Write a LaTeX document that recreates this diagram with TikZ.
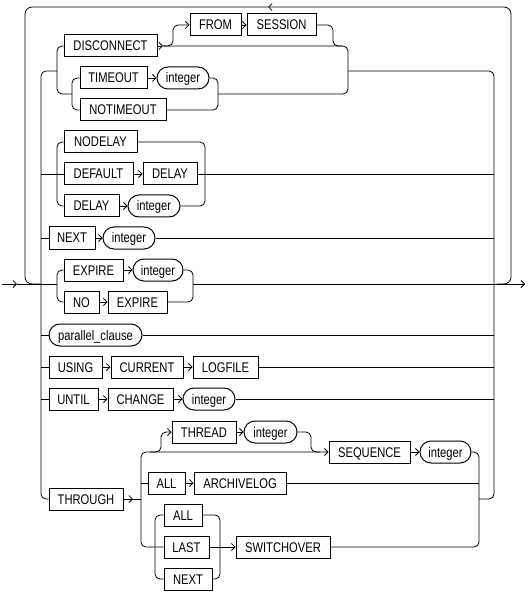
\documentclass[tikz,border=0pt]{standalone}
\usepackage{fontspec}
\setmainfont[FakeStretch=0.8]{Liberation Sans}
\usetikzlibrary{arrows.meta,shapes.misc}
\begin{document}
\begin{tikzpicture}[x=1pt,y=-1pt,
 kw/.style={draw,line width=1pt,minimum height=22pt,inner sep=0pt,text height=10pt,text depth=0pt,font=\fontsize{14}{16}\selectfont},
 var/.style={kw,rounded rectangle},
 ln/.style={line width=0.8pt,rounded corners=5pt},
 ar/.style={ln,-{Straight Barb[length=3.5pt,width=7pt,line width=0.8pt]}}]
\useasboundingbox (0,0) rectangle (529,593);

% nodes
\node[kw,minimum width=93pt] (disc) at (110.5,46) {DISCONNECT};
\node[kw,minimum width=51pt] (from) at (215.5,25) {FROM};
\node[kw,minimum width=69pt] (sess) at (281.5,25) {SESSION};
\node[kw,minimum width=67pt] (timeout) at (113.5,78) {TIMEOUT};
\node[var,minimum width=52pt] (int1) at (183,78) {integer};
\node[kw,minimum width=86pt] (notimeout) at (123,110) {NOTIMEOUT};
\node[kw,minimum width=73pt] (nodelay) at (100.5,142) {NODELAY};
\node[kw,minimum width=69pt] (default) at (98.5,174) {DEFAULT};
\node[kw,minimum width=54pt] (delayA) at (170,174) {DELAY};
\node[kw,minimum width=55pt] (delayB) at (91.5,206) {DELAY};
\node[var,minimum width=52pt] (int2) at (154,206) {integer};
\node[kw,minimum width=46pt] (next) at (72,238) {NEXT};
\node[var,minimum width=52pt] (int3) at (129,238) {integer};
\node[kw,minimum width=59pt] (expire) at (93.5,270) {EXPIRE};
\node[var,minimum width=50pt] (int4) at (158,270) {integer};
\node[kw,minimum width=35pt] (no) at (81.5,302) {NO};
\node[kw,minimum width=59pt] (expireB) at (137.5,302) {EXPIRE};
\node[var,minimum width=93pt] (pc) at (95.5,335) {parallel\_clause};
\node[kw,minimum width=53pt] (using) at (75.5,367) {USING};
\node[kw,minimum width=72pt] (current) at (147,367) {CURRENT};
\node[kw,minimum width=65pt] (logfile) at (225.5,367) {LOGFILE};
\node[kw,minimum width=49pt] (until) at (73.5,399) {UNTIL};
\node[kw,minimum width=65pt] (change) at (140.5,399) {CHANGE};
\node[var,minimum width=52pt] (int5) at (209,399) {integer};
\node[kw,minimum width=64pt] (thread) at (204,432) {THREAD};
\node[var,minimum width=53pt] (int6) at (270.5,432) {integer};
\node[kw,minimum width=81pt] (seq) at (369.5,452) {SEQUENCE};
\node[var,minimum width=51pt] (int7) at (445.5,452) {integer};
\node[kw,minimum width=74pt] (through) at (86,499) {THROUGH};
\node[kw,minimum width=37pt] (allA) at (166.5,483) {ALL};
\node[kw,minimum width=92pt] (archivelog) at (240,483) {ARCHIVELOG};
\node[kw,minimum width=38pt] (allB) at (183,515) {ALL};
\node[kw,minimum width=45pt] (last) at (186.5,547) {LAST};
\node[kw,minimum width=94pt] (switchover) at (283,547) {SWITCHOVER};
\node[kw,minimum width=48pt] (nextB) at (188,579) {NEXT};

% main line
\draw[ar] (2,284) -- (17,284);
\draw[ln] (17,284) -- (57,284);
\draw[ln] (193,284) -- (512,284);
\draw[ar] (512,284) -- (525,284);

% repeat loop
\draw[ar,rounded corners=7pt] (497,284) -| (511,7) -- (268,7);
\draw[ln,rounded corners=7pt] (268,7) -| (25,284) -- (41,284);

% buses
\draw[ln] (57,71) -| (41,499) -- (through.west);
\draw[ln] (348,71) -| (494,499) -- (479,499);

% DISCONNECT group
\draw[ln] (disc.west) -| (57,94) -- (72,94);
\draw[ar] (disc.east) -- (163,46);
\draw[ln] (163,46) -| (348,94) -- (218,94);
\draw[ar] (163,46) -| (173,25) -- (from.west);
\draw[ar] (from.east) -- (sess.west);
\draw[ln] (sess.east) -| (333,46) -- (342,46);
\draw[ln] (timeout.west) -| (72,110) -- (notimeout.west);
\draw[ar] (timeout.east) -- (int1.west);
\draw[ln] (int1.east) -| (218,110) -- (notimeout.east);

% DELAY group
\draw[ln] (41,174) -- (default.west);
\draw[ln] (nodelay.west) -| (57,206) -- (delayB.west);
\draw[ar] (default.east) -- (delayA.west);
\draw[ar] (delayB.east) -- (int2.west);
\draw[ln] (nodelay.east) -| (205,206) -- (int2.east);
\draw[ln] (delayA.east) -- (494,174);

% NEXT
\draw[ln] (41,238) -- (next.west);
\draw[ar] (next.east) -- (int3.west);
\draw[ln] (int3.east) -- (494,238);

% EXPIRE group
\draw[ln] (expire.west) -| (57,302) -- (no.west);
\draw[ar] (expire.east) -- (int4.west);
\draw[ar] (no.east) -- (expireB.west);
\draw[ln] (int4.east) -| (193,302) -- (expireB.east);

% parallel_clause
\draw[ln] (41,335) -- (pc.west);
\draw[ln] (pc.east) -- (494,335);

% USING
\draw[ln] (41,367) -- (using.west);
\draw[ar] (using.east) -- (current.west);
\draw[ar] (current.east) -- (logfile.west);
\draw[ln] (logfile.east) -- (494,367);

% UNTIL
\draw[ln] (41,399) -- (until.west);
\draw[ar] (until.east) -- (change.west);
\draw[ar] (change.east) -- (int5.west);
\draw[ln] (int5.east) -- (494,399);

% THROUGH
\draw[ar] (through.east) -- (133,499);
\draw[ln] (133,499) -- (141,499);
\draw[ar] (141,499) |- (seq.west);
\draw[ln] (141,499) |- (last.west);
\draw[ln] (141,483) -- (allA.west);
\draw[ar] (allA.east) -- (archivelog.west);
\draw[ln] (archivelog.east) -- (479,483);
\draw[ar] (150,452) -| (161,432) -- (thread.west);
\draw[ar] (thread.east) -- (int6.west);
\draw[ln] (int6.east) -| (311,452) -- (320,452);
\draw[ar] (seq.east) -- (int7.west);
\draw[ln] (int7.east) -| (479,547) -- (switchover.east);
\draw[ln] (allB.west) -| (155,579) -- (nextB.west);
\draw[ln] (allB.east) -| (220,579) -- (nextB.east);
\draw[ar] (last.east) -- (switchover.west);
\end{tikzpicture}
\end{document}
